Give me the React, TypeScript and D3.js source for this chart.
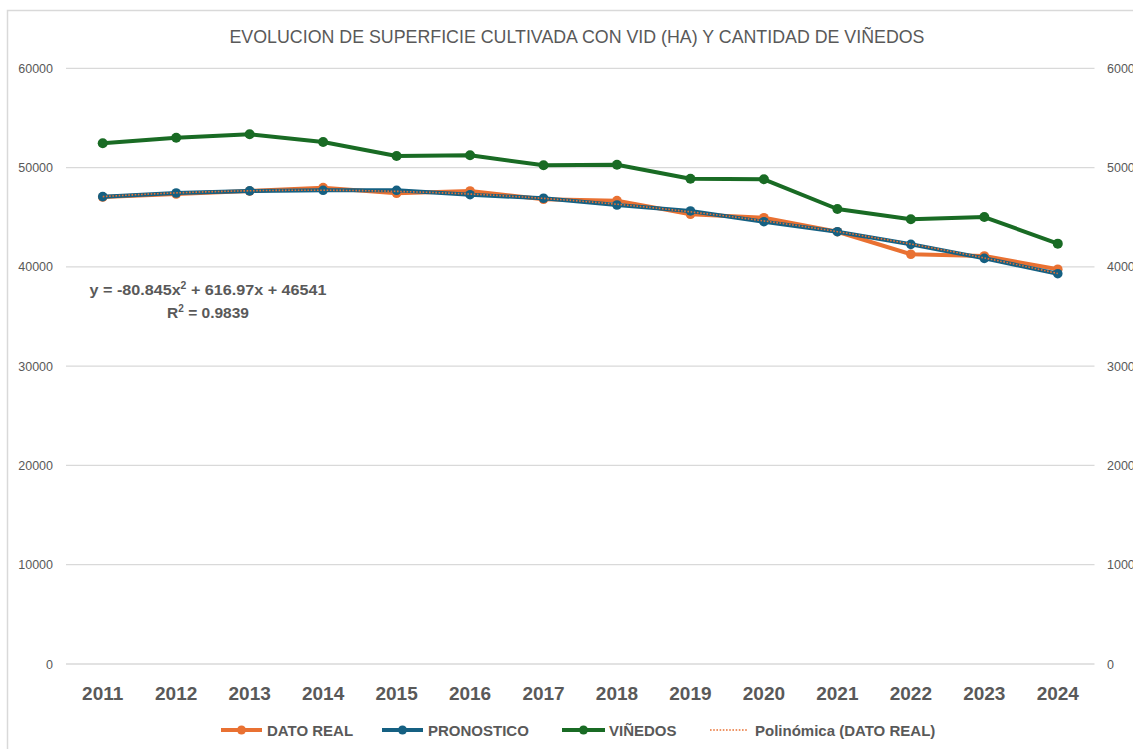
import React from "react";
import * as d3 from "d3";

const years = ["2011","2012","2013","2014","2015","2016","2017","2018","2019","2020","2021","2022","2023","2024"];
const datoReal = [47030, 47340, 47640, 47980, 47410, 47640, 46810, 46670, 45300, 44950, 43540, 41270, 41100, 39760];
const pronostico = [47070, 47440, 47650, 47710, 47710, 47270, 46910, 46230, 45630, 44550, 43540, 42270, 40860, 39310];
const vinedos = [5245, 5301, 5335, 5258, 5117, 5124, 5023, 5028, 4888, 4882, 4583, 4479, 4502, 4234];
const leftTicks = [0, 10000, 20000, 30000, 40000, 50000, 60000];
const rightTicks = [0, 1000, 2000, 3000, 4000, 5000, 6000];
const polyCoef = { a: -80.845, b: 616.97, c: 46541 };
const title = "EVOLUCION DE SUPERFICIE CULTIVADA CON VID (HA) Y CANTIDAD DE VIÑEDOS";

const W = 1133, H = 749;
const C_ORANGE = "#E97132", C_BLUE = "#156082", C_GREEN = "#196B24", C_TEXT = "#595959", C_GRID = "#d9d9d9";
const FONT = "'Liberation Sans', Arial, sans-serif";
const NARROW = "'Liberation Sans Narrow', 'Liberation Sans', Arial, sans-serif";

export default function App() {
  const x = d3.scaleBand<string>().domain(years).range([66, 1094.5]);
  const cx = (y: string) => (x(y) as number) + x.bandwidth() / 2;
  const yL = d3.scaleLinear().domain([0, 60000]).range([664, 68.3]);
  const yR = d3.scaleLinear().domain([0, 6000]).range([664, 68.3]);

  const lineL = d3.line<number>().x((_, i) => cx(years[i])).y((d) => yL(d));
  const lineR = d3.line<number>().x((_, i) => cx(years[i])).y((d) => yR(d));

  const xi = d3.scaleLinear().domain([1, years.length]).range([cx(years[0]), cx(years[years.length - 1])]);
  const polyPts = d3.range(1, years.length + 0.001, 0.1).map((t) => [xi(t), yL(polyCoef.a * t * t + polyCoef.b * t + polyCoef.c)] as [number, number]);
  const polyPath = d3.line()(polyPts) as string;

  const legend = [
    { label: "DATO REAL", color: C_ORANGE, x0: 221, x1: 262, tx: 267, type: "line" },
    { label: "PRONOSTICO", color: C_BLUE, x0: 382, x1: 423, tx: 428, type: "line" },
    { label: "VIÑEDOS", color: C_GREEN, x0: 562, x1: 605, tx: 609, type: "line" },
    { label: "Polinómica (DATO REAL)", color: C_ORANGE, x0: 710, x1: 747, tx: 755, type: "dot" },
  ];

  return (
    <svg width={W} height={H} style={{ position: "absolute", left: 0, top: 0, background: "#fff" }} fontFamily={FONT}>
      <rect x={0} y={0} width={W} height={H} fill="#fff" />
      <rect x={7.5} y={10.5} width={W + 20} height={H + 20} fill="none" stroke={C_GRID} strokeWidth={1.5} />
      <text x={577} y={43} textAnchor="middle" fontFamily={NARROW} fontSize={19} fill={C_TEXT} textLength={695} lengthAdjust="spacingAndGlyphs">{title}</text>

      {leftTicks.map((t) => (
        <g key={"g" + t}>
          <line x1={66} x2={1094.5} y1={yL(t)} y2={yL(t)} stroke={C_GRID} strokeWidth={1.3} />
          <text x={53} y={yL(t) + 4.5} textAnchor="end" fontSize={12.5} fill={C_TEXT}>{t}</text>
        </g>
      ))}
      {rightTicks.map((t) => (
        <text key={"r" + t} x={1107} y={yR(t) + 4.5} textAnchor="start" fontSize={12.5} fill={C_TEXT}>{t}</text>
      ))}
      {years.map((y) => (
        <text key={"x" + y} x={cx(y)} y={700} textAnchor="middle" fontSize={19} fontWeight="bold" fill={C_TEXT}>{y}</text>
      ))}

      <path d={lineR(vinedos) as string} fill="none" stroke={C_GREEN} strokeWidth={4} strokeLinejoin="round" />
      {vinedos.map((v, i) => (<circle key={"v" + i} cx={cx(years[i])} cy={yR(v)} r={5} fill={C_GREEN} />))}

      <path d={lineL(datoReal) as string} fill="none" stroke={C_ORANGE} strokeWidth={4} strokeLinejoin="round" />
      {datoReal.map((v, i) => (<circle key={"d" + i} cx={cx(years[i])} cy={yL(v)} r={4.8} fill={C_ORANGE} />))}

      <path d={lineL(pronostico) as string} fill="none" stroke={C_BLUE} strokeWidth={4} strokeLinejoin="round" />
      {pronostico.map((v, i) => (<circle key={"p" + i} cx={cx(years[i])} cy={yL(v)} r={4.8} fill={C_BLUE} />))}

      <path d={polyPath} fill="none" stroke={C_ORANGE} strokeWidth={1.6} strokeDasharray="1.6 1.6" />

      <text x={208} y={295} textAnchor="middle" fontSize={15.5} fontWeight="bold" fill={C_TEXT} textLength={237} lengthAdjust="spacingAndGlyphs">
        y = -80.845x<tspan dy={-6} fontSize={10}>2</tspan><tspan dy={6}> + 616.97x + 46541</tspan>
      </text>
      <text x={208} y={318} textAnchor="middle" fontSize={15.5} fontWeight="bold" fill={C_TEXT}>
        R<tspan dy={-6} fontSize={10}>2</tspan><tspan dy={6}> = 0.9839</tspan>
      </text>

      {legend.map((l) => (
        <g key={l.label}>
          {l.type === "line" ? (
            <>
              <line x1={l.x0} x2={l.x1} y1={730} y2={730} stroke={l.color} strokeWidth={4} />
              <circle cx={(l.x0 + l.x1) / 2} cy={730} r={4.5} fill={l.color} />
            </>
          ) : (
            <line x1={l.x0} x2={l.x1} y1={730} y2={730} stroke={l.color} strokeWidth={1.6} strokeDasharray="1.6 1.6" />
          )}
          <text x={l.tx} y={735.5} fontSize={15} fontWeight="bold" fill={C_TEXT}>{l.label}</text>
        </g>
      ))}
    </svg>
  );
}
